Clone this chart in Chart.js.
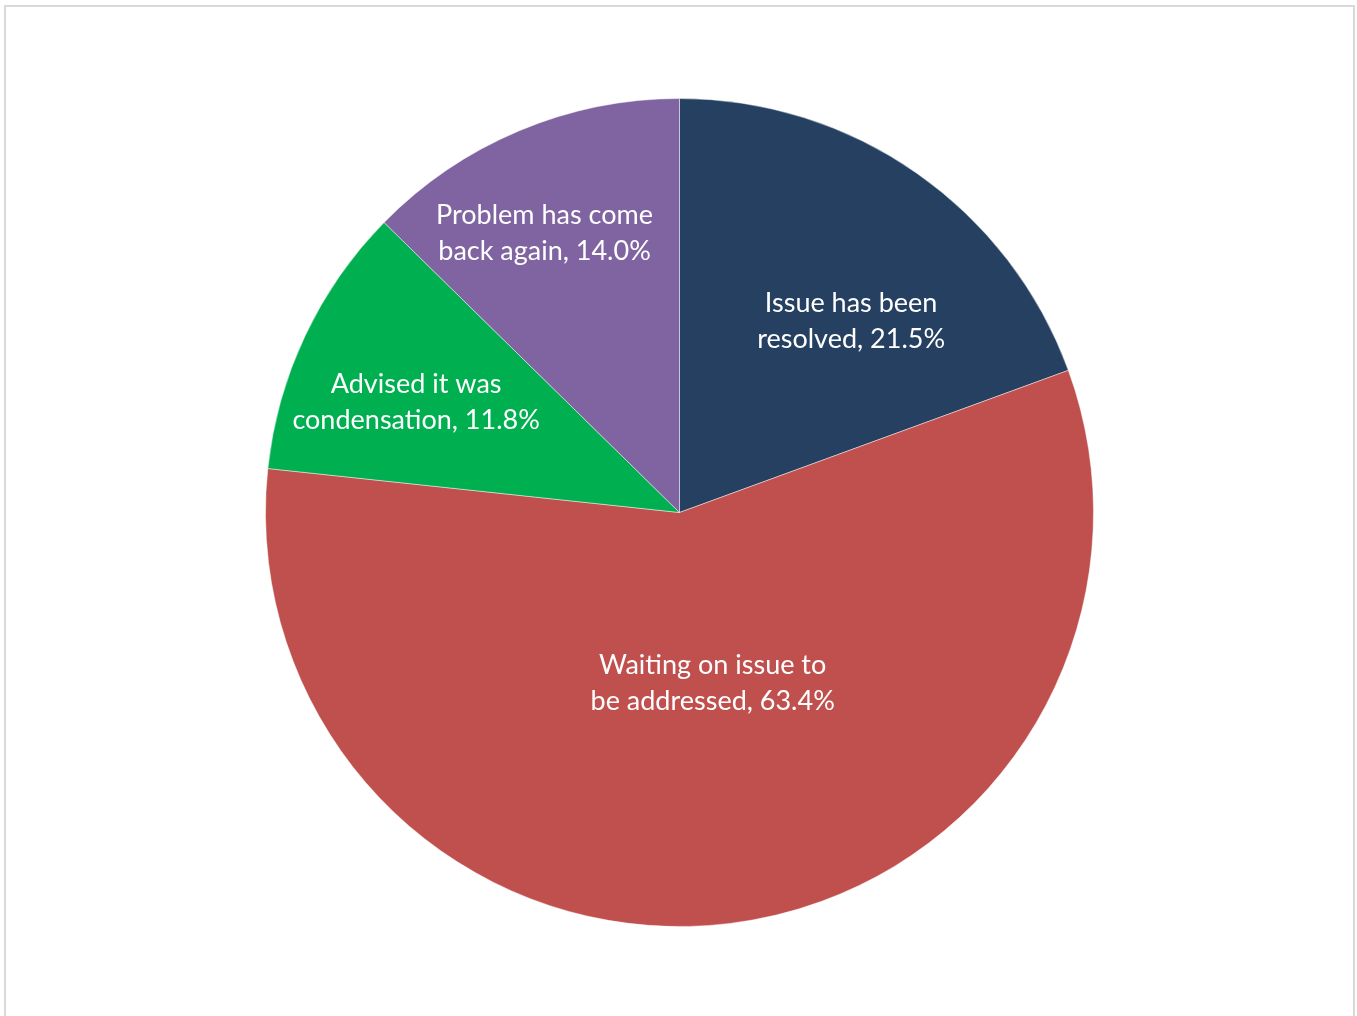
<!DOCTYPE html>
<html>
<head>
<meta charset="utf-8">
<script src="https://cdn.jsdelivr.net/npm/chart.js@4.4.1/dist/chart.umd.min.js"></script>
<style>
    html, body { margin: 0; padding: 0; background: #fff; overflow: hidden; }
    #frame {
        position: absolute; left: 4px; top: 5px; width: 1351px; height: 1100px;
        border: 2px solid #d9d9d9; box-sizing: border-box;
    }
    #wrap { position: absolute; left: 0; top: 0; width: 1357px; height: 1016px; }
</style>
</head>
<body>
<div id="frame"></div>
<div id="wrap"><canvas id="pie-chart"></canvas></div>
<script>
const labels = [
    ["Issue has been", "resolved, 21.5%"],
    ["Waiting on issue to", "be addressed, 63.4%"],
    ["Advised it was", "condensation, 11.8%"],
    ["Problem has come", "back again, 14.0%"],
];
const values = [21.5, 63.4, 11.8, 14.0];
const sliceColors = ["#264061", "#c0504d", "#00b050", "#8064a2"];

// label placement: angle nudge (deg) and fraction of radius
const labelPlacement = [
    {turn: 7, r: 0.62},
    {turn: -4, r: 0.42},
    {turn: -2.5, r: 0.69},
    {turn: -3, r: 0.75},
];

const sliceLabels = {
    id: "sliceLabels",
    afterDatasetsDraw(chart) {
        const ctx = chart.ctx;
        const meta = chart.getDatasetMeta(0);
        ctx.save();
        ctx.fillStyle = "#ffffff";
        ctx.font = "27px Lato";
        ctx.textAlign = "center";
        ctx.textBaseline = "middle";
        meta.data.forEach((arc, i) => {
            const p = arc.getProps(["x", "y", "startAngle", "endAngle", "outerRadius"], true);
            const place = labelPlacement[i];
            const a = (p.startAngle + p.endAngle) / 2 + place.turn * Math.PI / 180;
            const r = p.outerRadius * place.r;
            const cx = p.x + Math.cos(a) * r;
            const cy = p.y + Math.sin(a) * r;
            const lines = chart.data.labels[i];
            lines.forEach((line, j) => {
                ctx.fillText(line, cx, cy + (j - (lines.length - 1) / 2) * 36);
            });
        });
        ctx.restore();
    }
};

(function () {
    "use strict"
    const ctx = document.getElementById("pie-chart").getContext("2d");
    new Chart(ctx, {
        type: "pie",
        data: {
            labels: labels,
            datasets: [
                {
                    data: values,
                    backgroundColor: sliceColors,
                    borderColor: "rgba(255,255,255,0.45)",
                    borderWidth: 1,
                },
            ],
        },
        options: {
            responsive: true,
            maintainAspectRatio: false,
            animation: false,
            layout: {
                padding: {left: 265, right: 263, top: 98, bottom: 89},
            },
            plugins: {
                legend: {display: false},
                tooltip: {enabled: false},
            },
        },
        plugins: [sliceLabels],
    });
})()
</script>
</body>
</html>
